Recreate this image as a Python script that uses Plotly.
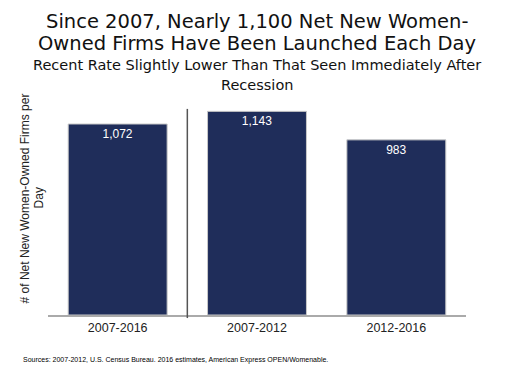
import plotly.graph_objects as go

categories = ["2007-2016", "2007-2012", "2012-2016"]
values = [1072, 1143, 983]
labels = ["1,072", "1,143", "983"]

title_lines = ["Since 2007, Nearly 1,100 Net New Women-",
               "Owned Firms Have Been Launched Each Day"]
subtitle_lines = ["Recent Rate Slightly Lower Than That Seen Immediately After",
                  "Recession"]
ytitle_lines = ["# of Net New Women-Owned Firms per", "Day"]
source = "Sources: 2007-2012, U.S. Census Bureau. 2016 estimates, American Express OPEN/Womenable."

fig = go.Figure()
fig.add_trace(go.Bar(
    x=categories, y=values, text=labels, textposition="inside",
    insidetextanchor="end",
    textfont=dict(color="white", size=12, family="Liberation Sans"),
    marker=dict(color="#1f2d5a", line=dict(color="#c8c8c8", width=1)),
    width=0.71, cliponaxis=False,
))

fig.add_shape(type="line", xref="x", yref="paper", x0=0.5, x1=0.5, y0=-0.013, y1=0.877,
              line=dict(color="#555555", width=1.5))

ann = []
for txt, y in zip(title_lines, [1.249, 1.157]):
    ann.append(dict(text=txt, xref="paper", yref="paper", x=0.5, y=y, xanchor="center",
                    yanchor="middle", showarrow=False,
                    font=dict(size=19.5, color="#111111", family="DejaVu Sans")))
for txt, y in zip(subtitle_lines, [1.065, 0.978]):
    ann.append(dict(text=txt, xref="paper", yref="paper", x=0.5, y=y, xanchor="center",
                    yanchor="middle", showarrow=False,
                    font=dict(size=14.5, color="#111111", family="DejaVu Sans")))
for txt, x in zip(ytitle_lines, [-0.055, -0.0215]):
    ann.append(dict(text=txt, xref="paper", yref="paper", x=x, y=0.496, xanchor="center",
                    yanchor="middle", showarrow=False, textangle=-90,
                    font=dict(size=12, color="#222222", family="Liberation Sans")))
ann.append(dict(text=source, xref="paper", yref="paper", x=-0.0646, y=-0.191,
                xanchor="left", yanchor="middle", showarrow=False,
                font=dict(size=7, color="#000000", family="Liberation Sans")))

fig.update_layout(
    width=515, height=363,
    margin=dict(l=40, r=57, t=72, b=56, autoexpand=False),
    paper_bgcolor="white", plot_bgcolor="white",
    font=dict(family="Liberation Sans", color="#222222"),
    showlegend=False,
    xaxis=dict(range=[-0.5, 2.5], showline=True, linecolor="#aaaaaa", linewidth=1.5,
               ticks="", tickfont=dict(size=12.5, color="#222222"), showgrid=False,
               automargin=False),
    yaxis=dict(range=[0, 1319], showticklabels=False, showgrid=False, zeroline=False,
               showline=False, automargin=False),
    annotations=ann,
)

fig.write_html("out.html")
